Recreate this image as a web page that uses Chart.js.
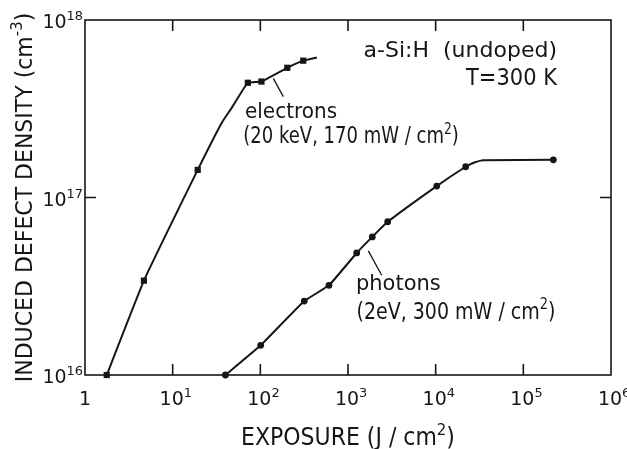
<!DOCTYPE html>
<html>
<head>
<meta charset="utf-8">
<script src="https://cdn.jsdelivr.net/npm/chart.js@4.4.1/dist/chart.umd.min.js"></script>
<style>
  body { margin: 0; background: #fff; }
</style>
</head>
<body>
<canvas id="graficoDefeitos" width="627" height="449"></canvas>
<script>
// elétrons (quadrados)
const eletronsX = [1.77, 4.7, 19.3, 72, 103, 203, 309];
const eletronsY = [1.0e16, 3.4e16, 1.43e17, 4.43e17, 4.5e17, 5.38e17, 5.9e17];
// curva traçada à mão pelos pontos de elétrons
const curvaEletronsX = [1.77, 4.7, 19.3, 36.2, 47.1, 58.5, 72, 103, 203, 309, 442];
const curvaEletronsY = [1.0e16, 3.4e16, 1.43e17, 2.63e17, 3.2e17, 3.8e17, 4.43e17, 4.5e17, 5.38e17, 5.9e17, 6.15e17];

// fótons (círculos)
const fotonsX = [40, 101, 317, 607, 1256, 1892, 2838, 10280, 21990, 220000];
const fotonsY = [1.0e16, 1.47e16, 2.61e16, 3.2e16, 4.87e16, 6.0e16, 7.3e16, 1.16e17, 1.49e17, 1.63e17];
const curvaFotonsX = [40, 101, 317, 607, 1256, 1892, 2838, 10280, 21990, 28000, 34800, 220000];
const curvaFotonsY = [1.0e16, 1.47e16, 2.61e16, 3.2e16, 4.87e16, 6.0e16, 7.3e16, 1.16e17, 1.49e17, 1.58e17, 1.62e17, 1.63e17];

// décadas dos eixos
const decadasX = [0, 1, 2, 3, 4, 5, 6];
const decadasY = [16, 17, 18];

const cor = '#161616';
const fonte = t => `${t}px "DejaVu Sans"`;

const pares = (xs, ys) => xs.map((x, i) => ({ x: x, y: ys[i] }));

// texto com partes sobrescritas: [[texto, sobrescrito], ...]
function textoRico(ctx, partes, x, y, tam, alinha, sy) {
  let larg = 0;
  partes.forEach(([t, sup]) => {
    ctx.font = fonte(sup ? tam * 0.68 : tam);
    larg += ctx.measureText(t).width;
  });
  const x0 = alinha === 'right' ? x - larg : alinha === 'center' ? x - larg / 2 : x;
  ctx.save();
  ctx.translate(x0, y);
  ctx.scale(1, sy || 1);
  let cx = 0;
  partes.forEach(([t, sup]) => {
    ctx.font = fonte(sup ? tam * 0.68 : tam);
    ctx.fillText(t, cx, sup ? -tam * 0.4 : 0);
    cx += ctx.measureText(t).width;
  });
  ctx.restore();
}

// legendas dentro do gráfico, em coordenadas de dados
const anotacoes = [
  { x: 2.42e5, y: 6.18e17, tam: 22, sy: 1, alinha: 'right', partes: [['a-Si:H  (undoped)']] },
  { x: 2.42e5, y: 4.3e17, tam: 21, sy: 1.1, alinha: 'right', partes: [['T=300 K']] },
  { x: 66.8, y: 2.79e17, tam: 20, sy: 1.1, alinha: 'left', partes: [['electrons']] },
  { x: 64, y: 2.02e17, tam: 18, sy: 1.25, alinha: 'left', partes: [['(20 keV, 170 mW / cm'], ['2', true], [')']] },
  { x: 1233, y: 3.0e16, tam: 21, sy: 1.05, alinha: 'left', partes: [['photons']] },
  { x: 1250, y: 2.08e16, tam: 19, sy: 1.2, alinha: 'left', partes: [['(2eV, 300 mW / cm'], ['2', true], [')']] }
];
const linhasGuia = [
  [140.6, 4.69e17, 182.8, 3.7e17],
  [1706, 5.0e16, 2422, 3.65e16]
];

const eixosETextos = {
  id: 'eixosETextos',
  afterDraw(chart) {
    const ctx = chart.ctx;
    const a = chart.chartArea;
    const sx = chart.scales.x, syy = chart.scales.y;
    ctx.save();
    ctx.strokeStyle = cor;
    ctx.fillStyle = cor;
    ctx.lineWidth = 1.6;
    ctx.strokeRect(a.left, a.top, a.right - a.left, a.bottom - a.top);

    // marcas internas
    ctx.beginPath();
    decadasX.slice(1, -1).forEach(k => {
      const px = sx.getPixelForValue(Math.pow(10, k));
      ctx.moveTo(px, a.bottom); ctx.lineTo(px, a.bottom - 11);
      ctx.moveTo(px, a.top); ctx.lineTo(px, a.top + 11);
    });
    decadasY.slice(1, -1).forEach(k => {
      const py = syy.getPixelForValue(Math.pow(10, k));
      ctx.moveTo(a.left, py); ctx.lineTo(a.left + 11, py);
      ctx.moveTo(a.right, py); ctx.lineTo(a.right - 11, py);
    });
    ctx.stroke();

    // rótulos do eixo x
    ctx.textBaseline = 'alphabetic';
    decadasX.forEach(k => {
      const px = sx.getPixelForValue(Math.pow(10, k));
      if (k === 0) {
        textoRico(ctx, [['1']], px, a.bottom + 30, 19, 'center');
      } else {
        ctx.font = fonte(19);
        const w = ctx.measureText('10').width;
        textoRico(ctx, [['10'], [String(k), true]], px - 1 - w / 2, a.bottom + 30, 19, 'left');
      }
    });
    // rótulos do eixo y
    decadasY.forEach(k => {
      const py = syy.getPixelForValue(Math.pow(10, k));
      textoRico(ctx, [['10'], [String(k), true]], a.left - 2, py + 8, 19, 'right');
    });

    // títulos
    textoRico(ctx, [['EXPOSURE (J / cm'], ['2', true], [')']], (a.left + a.right) / 2, 445, 22, 'center', 1.1);
    ctx.save();
    ctx.translate(32, (a.top + a.bottom) / 2);
    ctx.rotate(-Math.PI / 2);
    textoRico(ctx, [['INDUCED DEFECT DENSITY (cm'], ['-3', true], [')']], 0, 0, 22, 'center', 1.08);
    ctx.restore();

    // anotações
    anotacoes.forEach(n => {
      textoRico(ctx, n.partes, sx.getPixelForValue(n.x), syy.getPixelForValue(n.y), n.tam, n.alinha, n.sy);
    });
    ctx.lineWidth = 1.3;
    ctx.beginPath();
    linhasGuia.forEach(([x1, y1, x2, y2]) => {
      ctx.moveTo(sx.getPixelForValue(x1), syy.getPixelForValue(y1));
      ctx.lineTo(sx.getPixelForValue(x2), syy.getPixelForValue(y2));
    });
    ctx.stroke();
    ctx.restore();
  }
};

const elementoGrafico = document.getElementById('graficoDefeitos');

const grafico = new Chart(elementoGrafico, {
  type: 'line',
  data: {
    datasets: [
      {
        data: pares(curvaEletronsX, curvaEletronsY),
        borderColor: cor, borderWidth: 2, pointRadius: 0, tension: 0.1, clip: false
      },
      {
        data: pares(curvaFotonsX, curvaFotonsY),
        borderColor: cor, borderWidth: 2, pointRadius: 0, tension: 0.1, clip: false
      },
      {
        data: pares(eletronsX, eletronsY),
        showLine: false, pointStyle: 'rect', pointRadius: 4.4,
        backgroundColor: cor, borderColor: cor, borderWidth: 0, clip: false
      },
      {
        data: pares(fotonsX, fotonsY),
        showLine: false, pointStyle: 'circle', pointRadius: 3.4,
        backgroundColor: cor, borderColor: cor, borderWidth: 0, clip: false
      }
    ]
  },
  options: {
    responsive: false,
    animation: false,
    layout: { padding: { left: 85, top: 20, right: 16, bottom: 74 } },
    scales: {
      x: { type: 'logarithmic', min: 1, max: 1e6, display: false },
      y: { type: 'logarithmic', min: 1e16, max: 1e18, display: false }
    },
    plugins: { legend: { display: false }, tooltip: { enabled: false } }
  },
  plugins: [eixosETextos]
});
</script>
</body>
</html>
